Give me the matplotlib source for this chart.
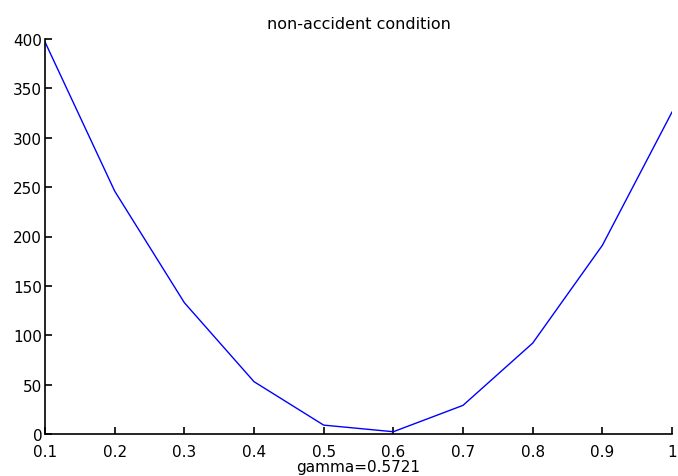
import matplotlib
matplotlib.use("Agg")
import matplotlib.pyplot as plt

gamma = [0.1, 0.2, 0.3, 0.4, 0.5, 0.6, 0.7, 0.8, 0.9, 1.0]
error = [397, 246, 133, 53, 9, 2.3, 29, 92, 191, 326]
x_ticks = [0.1, 0.2, 0.3, 0.4, 0.5, 0.6, 0.7, 0.8, 0.9, 1.0]
x_tick_labels = ["0.1", "0.2", "0.3", "0.4", "0.5", "0.6", "0.7", "0.8", "0.9", "1"]
y_ticks = [0, 50, 100, 150, 200, 250, 300, 350, 400]

plt.rcParams["font.family"] = ["DejaVu Sans"]

fig = plt.figure(figsize=(6.78, 4.77), dpi=100)
ax = fig.add_axes([45 / 678, 42 / 477, 627 / 678, 395 / 477])

ax.plot(gamma, error, color="#0000ff", linewidth=1.0)

ax.set_xlim(0.1, 1.0)
ax.set_ylim(0, 400)
ax.set_xticks(x_ticks)
ax.set_xticklabels(x_tick_labels)
ax.set_yticks(y_ticks)

for side in ("top", "right"):
    ax.spines[side].set_visible(False)
for side in ("left", "bottom"):
    ax.spines[side].set_linewidth(1.2)
ax.tick_params(direction="in", length=5, width=1.2, labelsize=11)
ax.tick_params(axis="x", pad=7)
ax.tick_params(axis="y", pad=2)

ax.set_title("non-accident condition", fontsize=11.5, pad=8)
ax.set_xlabel("gamma=0.5721", fontsize=11, labelpad=0)

fig.savefig("out.png", dpi=100)
